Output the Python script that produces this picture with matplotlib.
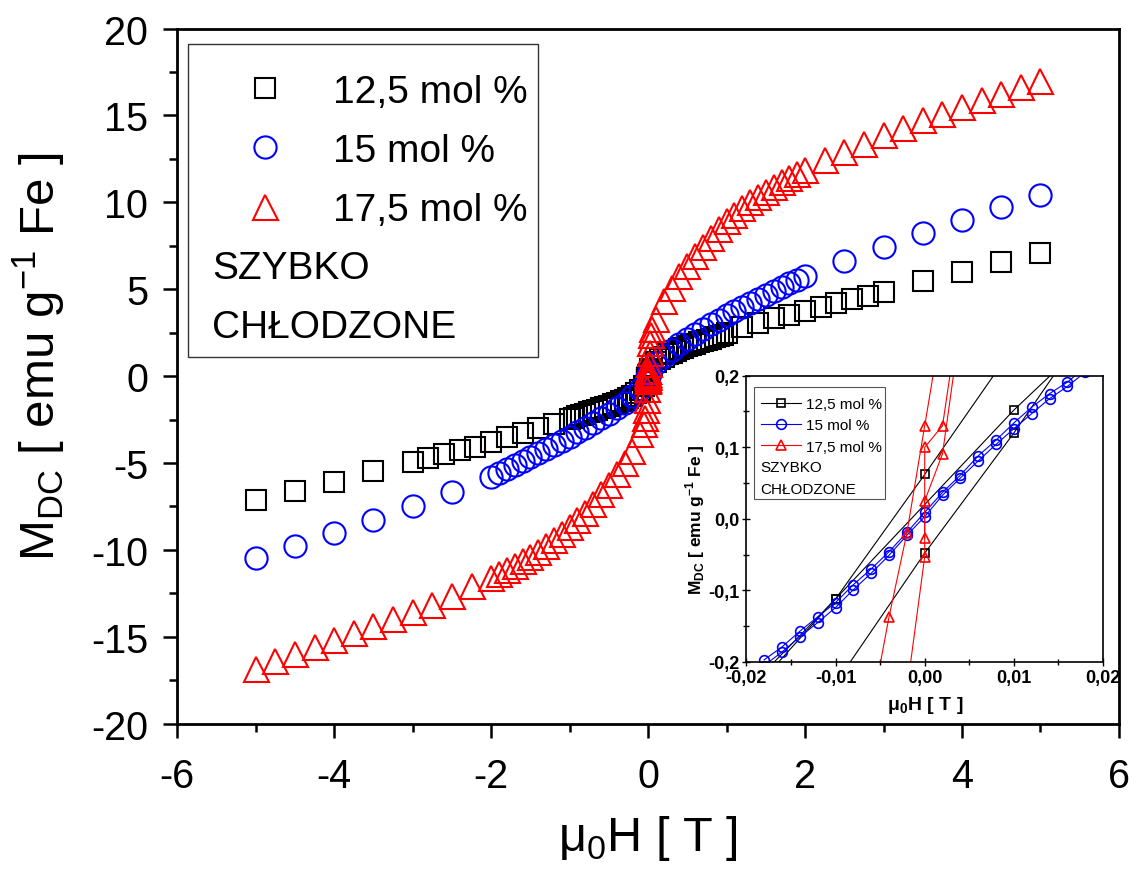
import matplotlib
matplotlib.use('Agg')
import matplotlib.pyplot as plt
from matplotlib.patches import Rectangle
from matplotlib.ticker import MultipleLocator, FuncFormatter

plt.rcParams['font.family'] = ['Liberation Sans', 'DejaVu Sans']
plt.rcParams['mathtext.fontset'] = 'custom'
plt.rcParams['mathtext.rm'] = 'Liberation Sans'
plt.rcParams['mathtext.bf'] = 'Liberation Sans:bold'
plt.rcParams['axes.unicode_minus'] = False

# ---- main loop data (field in T, magnetisation in emu/g Fe) ----
labels = ['12,5 mol %', '15 mol %', '17,5 mol %']
colors = ['black', '#0000ff', '#ff0000']

h_125 = [-5.0, -4.5, -4.0, -3.5, -3.0, -2.8, -2.6, -2.4, -2.2, -2.0, -1.8, -1.6, -1.4, -1.2, -1.0,
         -0.95, -0.9, -0.85, -0.8, -0.75, -0.7, -0.65, -0.6, -0.55, -0.5, -0.45, -0.4, -0.35, -0.3,
         -0.25, -0.2, -0.15, -0.1, -0.05,
         0.05, 0.1, 0.15, 0.2, 0.25, 0.3, 0.35, 0.4, 0.45, 0.5, 0.55, 0.6, 0.65, 0.7, 0.75, 0.8,
         0.85, 0.9, 0.95,
         1.0, 1.2, 1.4, 1.6, 1.8, 2.0, 2.2, 2.4, 2.6, 2.8, 3.0, 3.5, 4.0, 4.5, 5.0]
m_125 = [-7.12, -6.6, -6.07, -5.47, -4.92, -4.72, -4.5, -4.26, -4.05, -3.78, -3.52, -3.26, -3.0, -2.75, -2.47,
         -2.39, -2.31, -2.23, -2.15, -2.08, -2.0, -1.93, -1.85, -1.78, -1.7, -1.62, -1.54, -1.45, -1.35,
         -1.24, -1.12, -0.98, -0.8, -0.55,
         0.56, 0.81, 0.99, 1.13, 1.25, 1.36, 1.46, 1.55, 1.63, 1.71, 1.79, 1.86, 1.94, 2.01, 2.09, 2.16,
         2.24, 2.31, 2.39,
         2.46, 2.8, 3.08, 3.33, 3.54, 3.76, 3.99, 4.2, 4.45, 4.64, 4.86, 5.46, 6.02, 6.58, 7.08]

h_150 = [-5.0, -4.5, -4.0, -3.5, -3.0, -2.5, -2.0, -1.9, -1.8, -1.7, -1.6, -1.5, -1.4, -1.3, -1.2,
         -1.1, -1.0, -0.9, -0.8, -0.7, -0.6, -0.5, -0.4, -0.3, -0.2, -0.1,
         0.1, 0.2, 0.3, 0.4, 0.5, 0.6, 0.7, 0.8, 0.9, 1.0, 1.1, 1.2, 1.3, 1.4, 1.5, 1.6, 1.7, 1.8,
         1.9, 2.0, 2.5, 3.0, 3.5, 4.0, 4.5, 5.0]
m_150 = [-10.45, -9.78, -9.05, -8.28, -7.48, -6.68, -5.8, -5.56, -5.33, -5.1, -4.88, -4.65, -4.43,
         -4.2, -3.97, -3.73, -3.48, -3.23, -2.97, -2.7, -2.43, -2.15, -1.85, -1.52, -1.17, -0.76,
         0.77, 1.18, 1.53, 1.86, 2.16, 2.44, 2.71, 2.98, 3.24, 3.49, 3.74, 3.98, 4.21, 4.44, 4.66,
         4.89, 5.11, 5.34, 5.56, 5.74, 6.62, 7.44, 8.21, 8.97, 9.72, 10.42]

h_175 = [-5.0, -4.75, -4.5, -4.25, -4.0, -3.75, -3.5, -3.25, -3.0, -2.75, -2.5, -2.25, -2.0,
         -1.9, -1.8, -1.7, -1.6, -1.5, -1.4, -1.3, -1.2, -1.1, -1.0, -0.9, -0.8, -0.7, -0.6, -0.5,
         -0.4, -0.3, -0.2, -0.1, -0.05, -0.04, -0.03, -0.02, -0.01,
         0.01, 0.02, 0.03, 0.04, 0.05, 0.1, 0.2, 0.3, 0.4, 0.5, 0.6, 0.7, 0.8, 0.9, 1.0, 1.1, 1.2,
         1.3, 1.4, 1.5, 1.6, 1.7, 1.8, 1.9, 2.0, 2.25, 2.5, 2.75, 3.0, 3.25, 3.5, 3.75, 4.0, 4.25,
         4.5, 4.75, 5.0]
m_175 = [-16.85, -16.4, -16.0, -15.6, -15.2, -14.8, -14.4, -14.0, -13.55, -13.15, -12.65, -12.1, -11.6,
         -11.38, -11.15, -10.9, -10.65, -10.4, -10.1, -9.8, -9.45, -9.1, -8.7, -8.3, -7.85, -7.35,
         -6.8, -6.25, -5.65, -5.0, -4.3, -3.35, -2.75, -2.4, -1.95, -1.4, -0.75,
         0.72, 1.35, 1.9, 2.35, 2.7, 3.3, 4.35, 5.1, 5.75, 6.35, 6.9, 7.45, 7.95, 8.45, 8.9, 9.3,
         9.65, 10.0, 10.3, 10.6, 10.9, 11.15, 11.4, 11.62, 11.85, 12.42, 12.9, 13.38, 13.86, 14.28,
         14.72, 15.1, 15.49, 15.87, 16.26, 16.64, 17.0]

# ---- low-field branches shown in the inset ----
bk_h1 = [0.02, 0.0, -0.01, -0.02]
bk_m1 = [0.42, 0.062, -0.112, -0.25]
bk_h2 = [-0.01, 0.0, 0.01, 0.02]
bk_m2 = [-0.23, -0.048, 0.120, 0.30]
bk_h3 = [-0.02, -0.01, 0.01, 0.02]
bk_m3 = [-0.24, -0.112, 0.152, 0.27]

bl_h1 = [0.018, 0.016, 0.014, 0.012, 0.010, 0.008, 0.006, 0.004, 0.002, 0.0,
         -0.002, -0.004, -0.006, -0.008, -0.010, -0.012, -0.014, -0.016, -0.018]
bl_m1 = [0.212, 0.191, 0.175, 0.156, 0.134, 0.110, 0.088, 0.061, 0.037, 0.009,
         -0.019, -0.046, -0.070, -0.092, -0.117, -0.137, -0.157, -0.179, -0.197]
bl_h2 = [-0.018, -0.016, -0.014, -0.012, -0.010, -0.008, -0.006, -0.004, -0.002, 0.0,
         0.002, 0.004, 0.006, 0.008, 0.010, 0.012, 0.014, 0.016, 0.018]
bl_m2 = [-0.205, -0.186, -0.165, -0.145, -0.124, -0.099, -0.076, -0.051, -0.023, 0.003,
         0.033, 0.057, 0.081, 0.104, 0.126, 0.147, 0.168, 0.185, 0.205]

rd_h1 = [-0.006, -0.004, -0.002, 0.0, 0.002]
rd_m1 = [-0.27, -0.137, -0.02, 0.13, 0.28]
rd_h2 = [-0.002, 0.0, 0.0, 0.002, 0.004]
rd_m2 = [-0.24, -0.053, 0.025, 0.091, 0.27]
rd_h3 = [0.0, 0.0, 0.002, 0.004]
rd_m3 = [-0.027, 0.10, 0.13, 0.30]

main_sets = [(h_125, m_125), (h_150, m_150), (h_175, m_175)]
inset_sets = [[(bk_h1, bk_m1), (bk_h2, bk_m2), (bk_h3, bk_m3)],
              [(bl_h1, bl_m1), (bl_h2, bl_m2)],
              [(rd_h1, rd_m1), (rd_h2, rd_m2), (rd_h3, rd_m3)]]
markers = ['s', 'o', '^']
main_ms = [14, 16, 18]
inset_ms = [6, 7, 7.5]

fig = plt.figure(figsize=(11.36, 8.70), dpi=100)
ax = fig.add_axes([0.156, 0.167, 0.829, 0.799])

handles = []
for i in range(3):
    h, m = main_sets[i]
    ln, = ax.plot(h, m, ls='none', marker=markers[i], ms=main_ms[i], mfc='none',
                  mec=colors[i], mew=1.5, label=labels[i])
    handles.append(ln)
    for hh, mm in inset_sets[i]:
        ax.plot(hh, mm, ls='none', marker=markers[i], ms=main_ms[i], mfc='none',
                mec=colors[i], mew=1.5)

ax.set_xlim(-6, 6)
ax.set_ylim(-20, 20)
ax.xaxis.set_major_locator(MultipleLocator(2))
ax.xaxis.set_minor_locator(MultipleLocator(1))
ax.yaxis.set_major_locator(MultipleLocator(5))
ax.yaxis.set_minor_locator(MultipleLocator(2.5))
ax.tick_params(which='major', direction='out', length=10, width=1.8, labelsize=28.5, pad=11)
ax.tick_params(axis='x', which='major', pad=14)
ax.tick_params(which='minor', direction='out', length=5.5, width=1.8)
for sp in ax.spines.values():
    sp.set_linewidth(2.0)

ax.set_xlabel('μ$_{\\mathregular{0}}$H [ T ]', fontsize=35)
ax.set_ylabel('M$_{\\mathregular{DC}}$ [ emu g$^{\\mathregular{-1}}$ Fe ]', fontsize=35.5)
ax.xaxis.set_label_coords(0.5, -0.128)
ax.yaxis.set_label_coords(-0.116, 0.53)

leg = ax.legend(handles=handles, loc='upper left', bbox_to_anchor=(0.073, 0.935),
                frameon=False, fontsize=28, handlelength=1.0, handletextpad=1.25,
                labelspacing=0.60, borderpad=0, borderaxespad=0)
ax.text(0.037, 0.655, 'SZYBKO', transform=ax.transAxes, fontsize=28, va='center')
ax.text(0.037, 0.571, 'CHŁODZONE', transform=ax.transAxes, fontsize=28, va='center')
ax.add_patch(Rectangle((0.0117, 0.528), 0.371, 0.45, transform=ax.transAxes,
                       fill=False, lw=1.0, ec='#333333'))

# ---- inset ----
axin = fig.add_axes([0.657, 0.238, 0.314, 0.329])
in_handles = []
for i in range(3):
    for k, (hh, mm) in enumerate(inset_sets[i]):
        ln, = axin.plot(hh, mm, ls='-', lw=0.8, color=colors[i], marker=markers[i],
                        ms=inset_ms[i], mfc='none', mec=colors[i], mew=1.2)
        if k == 0:
            in_handles.append(ln)

axin.set_xlim(-0.02, 0.02)
axin.set_ylim(-0.2, 0.2)
axin.xaxis.set_major_locator(MultipleLocator(0.01))
axin.xaxis.set_minor_locator(MultipleLocator(0.005))
axin.yaxis.set_major_locator(MultipleLocator(0.1))
axin.yaxis.set_minor_locator(MultipleLocator(0.05))
axin.xaxis.set_major_formatter(FuncFormatter(lambda v, p: ('%.2f' % (0 if abs(v) < 1e-9 else v)).replace('.', ',')))
axin.yaxis.set_major_formatter(FuncFormatter(lambda v, p: ('%.1f' % (0 if abs(v) < 1e-9 else v)).replace('.', ',')))
axin.tick_params(which='major', direction='inout', length=6, width=1.0, labelsize=13, pad=2)
axin.tick_params(which='minor', direction='inout', length=4, width=1.0)
for t in axin.get_xticklabels() + axin.get_yticklabels():
    t.set_fontweight('bold')
for sp in axin.spines.values():
    sp.set_linewidth(1.2)

axin.set_xlabel('μ$_{\\mathbf{0}}$H [ T ]', fontsize=14, fontweight='bold', labelpad=6)
axin.set_ylabel('M$_{\\mathbf{DC}}$ [ emu g$^{\\mathbf{-1}}$ Fe ]', fontsize=12.5,
                fontweight='bold', labelpad=1)

axin.legend(handles=in_handles, labels=labels, loc='upper left', bbox_to_anchor=(0.041, 0.925),
            frameon=False, fontsize=11, handlelength=2.6, handletextpad=0.35,
            labelspacing=0.47, borderpad=0, borderaxespad=0)
axin.text(0.039, 0.682, 'SZYBKO', transform=axin.transAxes, fontsize=11, va='center')
axin.text(0.039, 0.605, 'CHŁODZONE', transform=axin.transAxes, fontsize=11, va='center')
axin.add_patch(Rectangle((0.022, 0.570), 0.367, 0.392, transform=axin.transAxes,
                         fill=False, lw=0.8, ec='#555555'))

fig.savefig('out.png', dpi=100)
